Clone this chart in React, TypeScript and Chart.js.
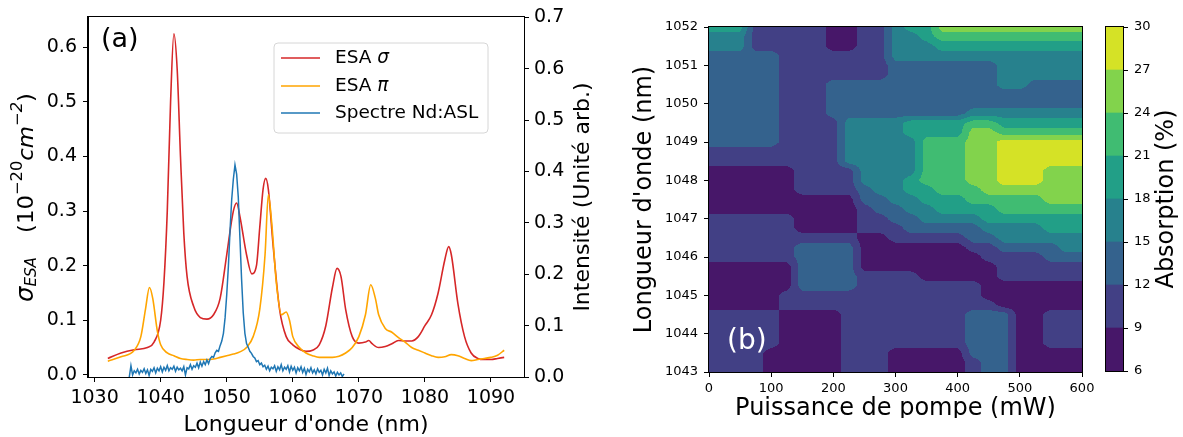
import React, { useEffect, useRef } from 'react';
import { Chart, registerables } from 'chart.js';

Chart.register(...registerables);

const FONT = "'DejaVu Sans', sans-serif";

// ---------- Panel (a) data ----------
const ESA_SIGMA_NM = [1032,1034,1036,1038,1039,1040,1040.5,1041,1041.5,1042,1042.5,1043,1043.5,1044,1045,1046,1047,1048,1049,1050,1051,1051.5,1052,1053,1053.8,1054.5,1055,1055.5,1055.9,1056.3,1057,1058,1059,1060,1061,1062,1063,1064,1065,1066,1066.7,1067.3,1068,1069,1070,1071,1071.5,1072,1073,1074,1075,1076,1077,1078,1079,1080,1081,1082,1083,1083.6,1084,1085,1086,1087,1088,1089,1090,1091,1092];
const ESA_SIGMA = [0.030,0.040,0.046,0.050,0.060,0.100,0.170,0.300,0.500,0.625,0.560,0.400,0.260,0.180,0.125,0.105,0.102,0.110,0.140,0.220,0.300,0.315,0.290,0.220,0.185,0.200,0.270,0.340,0.360,0.340,0.240,0.120,0.070,0.055,0.047,0.043,0.045,0.055,0.090,0.160,0.195,0.180,0.120,0.070,0.058,0.060,0.063,0.057,0.050,0.052,0.057,0.063,0.062,0.062,0.070,0.090,0.110,0.150,0.210,0.235,0.220,0.130,0.070,0.040,0.030,0.028,0.028,0.030,0.032];

const ESA_PI_NM = [1032,1034,1036,1037,1037.7,1038.3,1038.8,1039.5,1040,1041,1042,1043,1044,1045,1046,1047,1048,1049,1050,1051,1052,1053,1054,1055,1055.8,1056.3,1056.8,1057.5,1058.3,1059,1059.5,1060,1061,1062,1063,1064,1065,1066,1067,1068,1069,1070,1071,1071.8,1072.5,1073,1074,1075,1076,1077,1078,1079,1080,1081,1082,1083,1084,1085,1086,1087,1088,1089,1090,1091,1092];
const ESA_PI = [0.025,0.033,0.045,0.070,0.120,0.160,0.140,0.080,0.055,0.040,0.035,0.030,0.028,0.027,0.028,0.028,0.029,0.032,0.035,0.038,0.042,0.050,0.070,0.120,0.220,0.330,0.280,0.170,0.110,0.115,0.100,0.070,0.050,0.040,0.035,0.032,0.032,0.032,0.034,0.040,0.050,0.070,0.110,0.165,0.140,0.110,0.085,0.078,0.068,0.060,0.050,0.045,0.040,0.035,0.032,0.033,0.037,0.035,0.030,0.026,0.028,0.030,0.032,0.036,0.045];

const SPECTRE_NM = [1035.25,1035.5,1035.75,1036,1036.25,1036.5,1036.75,1037,1037.25,1037.5,1037.75,1038,1038.25,1038.5,1038.75,1039,1039.25,1039.5,1039.75,1040,1040.25,1040.5,1040.75,1041,1041.25,1041.5,1041.75,1042,1042.25,1042.5,1042.75,1043,1043.25,1043.5,1043.75,1044,1044.25,1044.5,1044.75,1045,1045.25,1045.5,1045.75,1046,1046.25,1046.5,1046.75,1047,1047.25,1047.5,1047.75,1048,1048.25,1048.5,1048.75,1049,1049.25,1049.5,1049.75,1050,1050.25,1050.5,1050.75,1051,1051.25,1051.5,1051.75,1052,1052.25,1052.5,1052.75,1053,1053.25,1053.5,1053.75,1054,1054.25,1054.5,1054.75,1055,1055.25,1055.5,1055.75,1056,1056.25,1056.5,1056.75,1057,1057.25,1057.5,1057.75,1058,1058.25,1058.5,1058.75,1059,1059.25,1059.5,1059.75,1060,1060.25,1060.5,1060.75,1061,1061.25,1061.5,1061.75,1062,1062.25,1062.5,1062.75,1063,1063.25,1063.5,1063.75,1064,1064.25,1064.5,1064.75,1065,1065.25,1065.5,1065.75,1066,1066.25,1066.5,1066.75,1067,1067.25,1067.5,1067.75];
const SPECTRE = [0.000,0.022,0.004,0.012,0.008,0.015,0.006,0.013,0.009,0.016,0.007,0.014,0.003,0.015,0.011,0.018,0.008,0.017,0.012,0.020,0.010,0.019,0.013,0.022,0.012,0.018,0.015,0.021,0.011,0.019,0.014,0.017,0.012,0.020,0.004,0.018,0.016,0.024,0.015,0.022,0.019,0.027,0.018,0.029,0.021,0.030,0.024,0.033,0.026,0.036,0.040,0.038,0.047,0.052,0.050,0.061,0.070,0.085,0.115,0.160,0.215,0.285,0.345,0.385,0.413,0.395,0.350,0.270,0.190,0.125,0.085,0.065,0.058,0.050,0.046,0.040,0.037,0.030,0.032,0.024,0.027,0.020,0.023,0.015,0.021,0.012,0.019,0.016,0.022,0.011,0.020,0.014,0.024,0.012,0.019,0.015,0.022,0.010,0.021,0.013,0.019,0.008,0.018,0.012,0.020,0.009,0.017,0.005,0.015,0.010,0.018,0.008,0.014,0.006,0.016,0.009,0.013,0.004,0.015,0.008,0.017,0.003,0.012,0.006,0.010,0.002,0.009,0.004,0.008,0.001,0.006];

const X_TICKS_A = [1030,1040,1050,1060,1070,1080,1090];
const Y_TICKS_A = [0,0.1,0.2,0.3,0.4,0.5,0.6];
const Y2_TICKS_A = [0,0.1,0.2,0.3,0.4,0.5,0.6,0.7];

const LEGEND_LABELS = ['ESA ', 'ESA ', 'Spectre Nd:ASL'];
const LEGEND_SYMBOLS = ['σ', 'π', ''];
const SERIES_COLORS = ['#d62728', '#ffa500', '#1f77b4'];

// ---------- Panel (b) data ----------
const MAP_POWER = [0,25,50,75,100,125,150,175,200,225,250,275,300,325,350,375,400,425,450,475,500,525,550,575,600];
const MAP_WL = [1052,1051.75,1051.5,1051.25,1051,1050.75,1050.5,1050.25,1050,1049.75,1049.5,1049.25,1049,1048.75,1048.5,1048.25,1048,1047.75,1047.5,1047.25,1047,1046.75,1046.5,1046.25,1046,1045.75,1045.5,1045.25,1045,1044.75,1044.5,1044.25,1044,1043.75,1043.5,1043.25,1043];
// absorption band read at each (wavelength row, power column): 0 = 6-9 %, 1 = 9-12 %, ... 7 = 27-30 %
const MAP_BANDS = [
  '4441111100113446666666666',
  '3331111100113345555555555',
  '3331111100113334444444444',
  '2222211111113333333333333',
  '2222211111112222222333333',
  '2222211111112222222333333',
  '2222211122222222222332222',
  '2222211122222222222222222',
  '2222211122222222222222222',
  '2222211122222222233333333',
  '2222211113333444455444444',
  '2222211113333444466555555',
  '2222211113333355566777777',
  '1111111113333355566777777',
  '1111111113333355566777777',
  '0000001111333355566777666',
  '0000001111333455566777666',
  '0000001111233445556666666',
  '0000000000223344455555666',
  '0000000000122334444555555',
  '1111110000112233334444444',
  '1111110000111222223333444',
  '1111111111001111122333333',
  '1111112222000000011222233',
  '1111112222000000001111222',
  '0000002222000000000111111',
  '0000002222111100000111111',
  '0000002222111111110000000',
  '0000011111111111110000000',
  '0000011111111111111000000',
  '1111100001111111122200111',
  '1111100001111111122200111',
  '1111100001111111122200111',
  '1111100001111111122200111',
  '1111000001110000022200000',
  '1111000001110000012200000',
  '1111000001110000012200000',
];
const CONTOUR_LEVELS = [6,9,12,15,18,21,24,27,30];
const BAND_COLORS = ['#471769','#424085','#34628d','#27818d','#229f87','#40bc72','#82d34c','#d5e226'];
const MAP_X_TICKS = [0,100,200,300,400,500,600];
const MAP_Y_TICKS = [1043,1044,1045,1046,1047,1048,1049,1050,1051,1052];

// ---------- helpers ----------
function bandValue(r: number, c: number): number {
  const d = Number(MAP_BANDS[r][c]);
  return CONTOUR_LEVELS[d] + 1.5;
}

function bandAt(xv: number, yv: number): number {
  let c = 0;
  while (c < MAP_POWER.length - 2 && xv > MAP_POWER[c + 1]) c++;
  let r = 0;
  while (r < MAP_WL.length - 2 && yv < MAP_WL[r + 1]) r++;
  const tx = Math.min(1, Math.max(0, (xv - MAP_POWER[c]) / (MAP_POWER[c + 1] - MAP_POWER[c])));
  const ty = Math.min(1, Math.max(0, (MAP_WL[r] - yv) / (MAP_WL[r] - MAP_WL[r + 1])));
  const z =
    bandValue(r, c) * (1 - tx) * (1 - ty) +
    bandValue(r, c + 1) * tx * (1 - ty) +
    bandValue(r + 1, c) * (1 - tx) * ty +
    bandValue(r + 1, c + 1) * tx * ty;
  let k = 0;
  while (k < CONTOUR_LEVELS.length - 2 && z >= CONTOUR_LEVELS[k + 1]) k++;
  return k;
}

function rotatedText(ctx: CanvasRenderingContext2D, text: string, x: number, y: number, font: string) {
  ctx.save();
  ctx.translate(x, y);
  ctx.rotate(-Math.PI / 2);
  ctx.font = font;
  ctx.fillStyle = '#000';
  ctx.textAlign = 'center';
  ctx.textBaseline = 'middle';
  ctx.fillText(text, 0, 0);
  ctx.restore();
}

function frame(ctx: CanvasRenderingContext2D, a: { left: number; top: number; right: number; bottom: number }) {
  ctx.save();
  ctx.strokeStyle = '#000';
  ctx.lineWidth = 1;
  ctx.strokeRect(Math.round(a.left) - 0.5, Math.round(a.top) - 0.5, Math.round(a.right - a.left) + 1, Math.round(a.bottom - a.top) + 1);
  ctx.restore();
}

const tickAxis = (size: number, pad: number) => ({
  grid: { display: true, drawOnChartArea: false, drawTicks: true, tickLength: 5, tickColor: '#000', tickWidth: 1 },
  border: { display: true, color: '#000', width: 1 },
  ticks: { font: { family: FONT, size }, color: '#000', padding: pad, maxRotation: 0, autoSkip: false },
});

type Piece = [string, string, number];
function drawPieces(ctx: CanvasRenderingContext2D, pieces: Piece[], start: number, length: number) {
  let natural = 0;
  for (const p of pieces) {
    ctx.font = p[1];
    natural += ctx.measureText(p[0]).width;
  }
  ctx.save();
  ctx.translate(start, 0);
  ctx.scale(length / natural, 1);
  let u = 0;
  for (const p of pieces) {
    ctx.font = p[1];
    ctx.fillText(p[0], u, p[2]);
    u += ctx.measureText(p[0]).width;
  }
  ctx.restore();
}

// ---------- plugins ----------
const panelAPlugin = {
  id: 'panelA',
  afterDraw(chart: any) {
    const ctx: CanvasRenderingContext2D = chart.ctx;
    const a = chart.chartArea;
    frame(ctx, a);
    ctx.save();
    ctx.fillStyle = '#000';
    ctx.font = `27px ${FONT}`;
    ctx.textAlign = 'left';
    ctx.textBaseline = 'alphabetic';
    ctx.fillText('(a)', 101, 47);

    // legend
    const lx = 274, ly = 43, lw = 214, lh = 90, rr = 4;
    ctx.beginPath();
    ctx.moveTo(lx + rr, ly);
    ctx.lineTo(lx + lw - rr, ly);
    ctx.arcTo(lx + lw, ly, lx + lw, ly + rr, rr);
    ctx.lineTo(lx + lw, ly + lh - rr);
    ctx.arcTo(lx + lw, ly + lh, lx + lw - rr, ly + lh, rr);
    ctx.lineTo(lx + rr, ly + lh);
    ctx.arcTo(lx, ly + lh, lx, ly + lh - rr, rr);
    ctx.lineTo(lx, ly + rr);
    ctx.arcTo(lx, ly, lx + rr, ly, rr);
    ctx.closePath();
    ctx.fillStyle = 'rgba(255,255,255,0.8)';
    ctx.fill();
    ctx.strokeStyle = '#d6d6d6';
    ctx.lineWidth = 1;
    ctx.stroke();
    const rows = [58, 86, 113];
    for (let i = 0; i < 3; i++) {
      ctx.strokeStyle = SERIES_COLORS[i];
      ctx.lineWidth = 1.7;
      ctx.beginPath();
      ctx.moveTo(281, rows[i]);
      ctx.lineTo(320, rows[i]);
      ctx.stroke();
      ctx.fillStyle = '#000';
      ctx.textBaseline = 'middle';
      ctx.font = `18.5px ${FONT}`;
      ctx.fillText(LEGEND_LABELS[i], 335, rows[i]);
      if (LEGEND_SYMBOLS[i]) {
        const w = ctx.measureText(LEGEND_LABELS[i]).width;
        ctx.font = `italic 18.5px ${FONT}`;
        ctx.fillText(LEGEND_SYMBOLS[i], 335 + w, rows[i]);
      }
    }

    // left y title: sigma_ESA (10^-20 cm^-2), rotated, spanning y 302 -> 93
    ctx.translate(33, 302);
    ctx.rotate(-Math.PI / 2);
    ctx.fillStyle = '#000';
    ctx.textAlign = 'left';
    ctx.textBaseline = 'alphabetic';
    drawPieces(ctx, [['σ', `italic 24px ${FONT}`, 0], ['ESA', `italic 15px ${FONT}`, 3]], 0, 45);
    drawPieces(
      ctx,
      [
        ['(10', `21px ${FONT}`, 0],
        ['−20', `15px ${FONT}`, -11],
        ['cm', `italic 21px ${FONT}`, 0],
        ['−2', `italic 15px ${FONT}`, -11],
        [')', `21px ${FONT}`, 0],
      ],
      69,
      140
    );
    ctx.restore();

    rotatedText(ctx, 'Intensité (Unité arb.)', 583, 197, `22px ${FONT}`);
    ctx.save();
    ctx.font = `22px ${FONT}`;
    ctx.fillStyle = '#000';
    ctx.textAlign = 'center';
    ctx.textBaseline = 'alphabetic';
    ctx.fillText("Longueur d'onde (nm)", 306, 431);
    ctx.restore();
  },
};

const panelBPlugin = {
  id: 'panelB',
  beforeDatasetsDraw(chart: any) {
    const ctx: CanvasRenderingContext2D = chart.ctx;
    const a = chart.chartArea;
    const xs = chart.scales.x;
    const ys = chart.scales.y;
    const x0 = Math.round(a.left), x1 = Math.round(a.right);
    const y0 = Math.round(a.top), y1 = Math.round(a.bottom);
    ctx.save();
    for (let py = y0; py < y1; py++) {
      const yv = ys.getValueForPixel(py + 0.5);
      let runStart = x0;
      let runBand = -1;
      for (let px = x0; px <= x1; px++) {
        const b = px < x1 ? bandAt(xs.getValueForPixel(px + 0.5), yv) : -2;
        if (b !== runBand) {
          if (runBand >= 0) {
            ctx.fillStyle = BAND_COLORS[runBand];
            ctx.fillRect(runStart, py, px - runStart, 1);
          }
          runStart = px;
          runBand = b;
        }
      }
    }
    ctx.restore();
  },
  afterDraw(chart: any) {
    const ctx: CanvasRenderingContext2D = chart.ctx;
    const a = chart.chartArea;
    frame(ctx, a);
    ctx.save();
    ctx.fillStyle = '#fff';
    ctx.font = `28px ${FONT}`;
    ctx.textAlign = 'left';
    ctx.textBaseline = 'alphabetic';
    ctx.fillText('(b)', 127, 349);
    // x title, cut at the bottom like the reference
    ctx.beginPath();
    ctx.rect(0, 380, 500, 38);
    ctx.clip();
    ctx.fillStyle = '#000';
    ctx.font = `24px ${FONT}`;
    ctx.textAlign = 'center';
    ctx.fillText('Puissance de pompe (mW)', (a.left + a.right) / 2, 415);
    ctx.restore();
    rotatedText(ctx, "Longueur d'onde (nm)", 45, (a.top + a.bottom) / 2, `24px ${FONT}`);
  },
};

const colorbarPlugin = {
  id: 'colorbar',
  afterDraw(chart: any) {
    const ctx: CanvasRenderingContext2D = chart.ctx;
    const a = chart.chartArea;
    frame(ctx, a);
    rotatedText(ctx, 'Absorption (%)', 67, (a.top + a.bottom) / 2, `24px ${FONT}`);
  },
};

export default function App() {
  const aRef = useRef<HTMLCanvasElement>(null);
  const bRef = useRef<HTMLCanvasElement>(null);
  const cRef = useRef<HTMLCanvasElement>(null);

  useEffect(() => {
    const charts: Chart[] = [];

    const axX = tickAxis(19, 5);
    const axY = tickAxis(19, 6);
    const axY2 = tickAxis(19, 5);
    charts.push(
      new Chart(aRef.current!, {
        type: 'line',
        data: {
          datasets: [
            {
              label: 'ESA σ',
              data: ESA_SIGMA_NM.map((x, i) => ({ x, y: ESA_SIGMA[i] })),
              borderColor: SERIES_COLORS[0],
              borderWidth: 1.6,
              pointRadius: 0,
              cubicInterpolationMode: 'monotone',
              yAxisID: 'y',
              order: 3,
            },
            {
              label: 'ESA π',
              data: ESA_PI_NM.map((x, i) => ({ x, y: ESA_PI[i] })),
              borderColor: SERIES_COLORS[1],
              borderWidth: 1.6,
              pointRadius: 0,
              cubicInterpolationMode: 'monotone',
              yAxisID: 'y',
              order: 2,
            },
            {
              label: 'Spectre Nd:ASL',
              data: SPECTRE_NM.map((x, i) => ({ x, y: SPECTRE[i] })),
              borderColor: SERIES_COLORS[2],
              borderWidth: 1.5,
              pointRadius: 0,
              tension: 0,
              yAxisID: 'y2',
              order: 1,
            },
          ],
        },
        options: {
          animation: false,
          responsive: false,
          layout: { padding: { top: 17, left: 0, right: 0, bottom: 0 } },
          plugins: { legend: { display: false }, tooltip: { enabled: false } },
          scales: {
            x: {
              type: 'linear',
              min: 1029,
              max: 1095,
              ...axX,
              afterBuildTicks: (s: any) => { s.ticks = X_TICKS_A.map((v) => ({ value: v })); },
              afterFit: (s: any) => { s.height = 60; },
              ticks: { ...axX.ticks, callback: (v: any) => String(v) },
            },
            y: {
              type: 'linear',
              position: 'left',
              min: -0.004,
              max: 0.655,
              ...axY,
              afterBuildTicks: (s: any) => { s.ticks = Y_TICKS_A.map((v) => ({ value: v })); },
              afterFit: (s: any) => { s.width = 88; },
              ticks: { ...axY.ticks, callback: (v: any) => Number(v).toFixed(1) },
            },
            y2: {
              type: 'linear',
              position: 'right',
              min: 0,
              max: 0.7,
              ...axY2,
              afterBuildTicks: (s: any) => { s.ticks = Y2_TICKS_A.map((v) => ({ value: v })); },
              afterFit: (s: any) => { s.width = 76; },
              ticks: { ...axY2.ticks, callback: (v: any) => Number(v).toFixed(1) },
            },
          },
        },
        plugins: [panelAPlugin],
      } as any)
    );

    const bx = tickAxis(13, 4);
    const by = tickAxis(13, 6);
    charts.push(
      new Chart(bRef.current!, {
        type: 'scatter',
        data: { datasets: [{ label: 'Absorption', data: [], pointRadius: 0 }] },
        options: {
          animation: false,
          responsive: false,
          layout: { padding: { top: 27, left: 0, right: 18, bottom: 0 } },
          plugins: { legend: { display: false }, tooltip: { enabled: false } },
          scales: {
            x: {
              type: 'linear',
              min: 0,
              max: 600,
              ...bx,
              afterBuildTicks: (s: any) => { s.ticks = MAP_X_TICKS.map((v) => ({ value: v })); },
              afterFit: (s: any) => { s.height = 65; },
              ticks: { ...bx.ticks, callback: (v: any) => String(v) },
            },
            y: {
              type: 'linear',
              min: 1043,
              max: 1052,
              ...by,
              afterBuildTicks: (s: any) => { s.ticks = MAP_Y_TICKS.map((v) => ({ value: v })); },
              afterFit: (s: any) => { s.width = 109; },
              ticks: { ...by.ticks, callback: (v: any) => String(v) },
            },
          },
        },
        plugins: [panelBPlugin],
      } as any)
    );

    const cx = tickAxis(13, 6);
    charts.push(
      new Chart(cRef.current!, {
        type: 'bar',
        data: {
          labels: [''],
          datasets: BAND_COLORS.map((col, i) => ({
            label: `${CONTOUR_LEVELS[i]}-${CONTOUR_LEVELS[i + 1]}`,
            data: [[CONTOUR_LEVELS[i], CONTOUR_LEVELS[i + 1]]],
            backgroundColor: col,
            borderWidth: 0,
            barPercentage: 1,
            categoryPercentage: 1,
            grouped: false,
          })),
        },
        options: {
          animation: false,
          responsive: false,
          layout: { padding: { top: 27, left: 6, right: 0, bottom: 66 } },
          plugins: { legend: { display: false }, tooltip: { enabled: false } },
          scales: {
            x: { display: false },
            y: {
              type: 'linear',
              position: 'right',
              min: 6,
              max: 30,
              ...cx,
              afterBuildTicks: (s: any) => { s.ticks = CONTOUR_LEVELS.map((v) => ({ value: v })); },
              afterFit: (s: any) => { s.width = 60; },
              ticks: { ...cx.ticks, callback: (v: any) => String(v) },
            },
          },
        },
        plugins: [colorbarPlugin],
      } as any)
    );

    return () => charts.forEach((c) => c.destroy());
  }, []);

  return (
    <div style={{ position: 'fixed', left: 0, top: 0, width: 1183, height: 437, background: '#fff', overflow: 'hidden' }}>
      <canvas ref={aRef} width={600} height={437} style={{ position: 'absolute', left: 0, top: 0, display: 'block' }} />
      <canvas ref={bRef} width={500} height={437} style={{ position: 'absolute', left: 600, top: 0, display: 'block' }} />
      <canvas ref={cRef} width={83} height={437} style={{ position: 'absolute', left: 1100, top: 0, display: 'block' }} />
    </div>
  );
}
